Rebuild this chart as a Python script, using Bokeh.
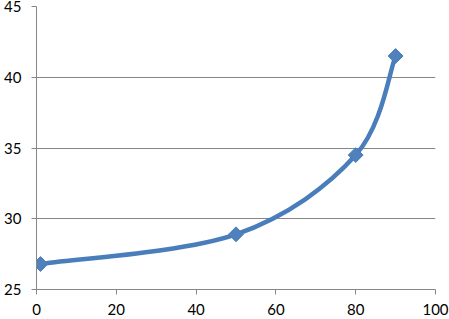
import math
from bokeh.plotting import figure
from bokeh.models import ColumnDataSource, FixedTicker, Range1d
from bokeh.embed import file_html
from bokeh.resources import INLINE

# data
x_vals = [1, 50, 80, 90]
y_vals = [26.8, 28.9, 34.5, 41.5]
x_ticks = [0, 20, 40, 60, 80, 100]
y_ticks = [25, 30, 35, 40, 45]

LINE = "#4A7EBB"
MARK = "#4F81BD"
GRID = "#868686"

# smoothed (Catmull-Rom style) bezier segments through the points
n = len(x_vals)
def pt(i):
    i = max(0, min(n - 1, i))
    return x_vals[i], y_vals[i]

seg = dict(x0=[], y0=[], x1=[], y1=[], cx0=[], cy0=[], cx1=[], cy1=[])
for i in range(n - 1):
    xa, ya = pt(i - 1)
    xb, yb = pt(i)
    xc, yc = pt(i + 1)
    xd, yd = pt(i + 2)
    seg["x0"].append(xb); seg["y0"].append(yb)
    seg["x1"].append(xc); seg["y1"].append(yc)
    seg["cx0"].append(xb + (xc - xa) / 6); seg["cy0"].append(yb + (yc - ya) / 6)
    seg["cx1"].append(xc - (xd - xb) / 6); seg["cy1"].append(yc - (yd - yb) / 6)

p = figure(width=449, height=319, output_backend="svg", toolbar_location=None,
           x_range=Range1d(0, 100), y_range=Range1d(25, 45),
           min_border_left=36, min_border_right=14, min_border_top=6,
           min_border_bottom=30)
p.outline_line_color = None
p.background_fill_color = "white"
p.border_fill_color = "white"

p.bezier(x0="x0", y0="y0", x1="x1", y1="y1", cx0="cx0", cy0="cy0",
         cx1="cx1", cy1="cy1", source=ColumnDataSource(seg),
         line_color=LINE, line_width=4.5, line_cap="round")
p.scatter(x_vals, y_vals, marker="square", size=10.5, angle=math.pi / 4,
          fill_color=MARK, line_color=LINE, line_width=1)

p.xgrid.grid_line_color = None
p.ygrid.grid_line_color = GRID
p.ygrid.grid_line_width = 1
p.xaxis.ticker = FixedTicker(ticks=x_ticks)
p.yaxis.ticker = FixedTicker(ticks=y_ticks)
for ax in (p.xaxis[0], p.yaxis[0]):
    ax.axis_line_color = GRID
    ax.major_tick_line_color = GRID
    ax.major_tick_in = 0
    ax.major_tick_out = 5
    ax.minor_tick_line_color = None
    ax.major_label_text_font = "Lato"
    ax.major_label_text_font_size = "15px"
    ax.major_label_text_color = "black"
p.yaxis.major_label_standoff = 10
p.xaxis.major_label_standoff = 9

open("out.html", "w").write(file_html(p, INLINE))
